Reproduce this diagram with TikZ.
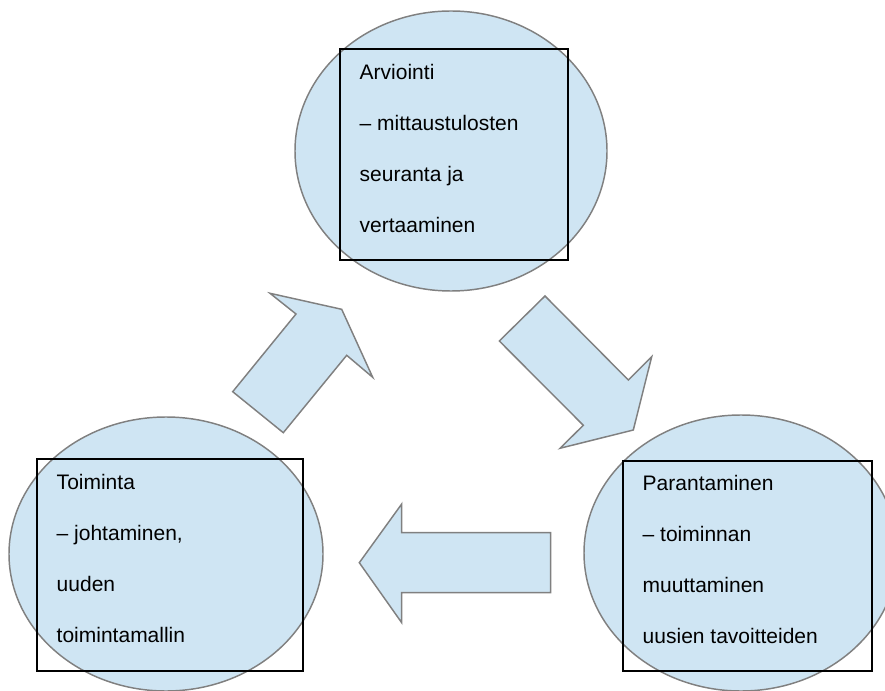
\documentclass[tikz,border=0pt]{standalone}
\usepackage{fontspec}
\setmainfont{Liberation Sans}
\usetikzlibrary{shapes.geometric, fit}

\definecolor{phasefill}{RGB}{207,229,243}
\definecolor{phaseline}{RGB}{128,128,128}

\begin{document}
\begin{tikzpicture}[x=0.75pt, y=-0.75pt, line join=miter]

% --- Global TikZ Styles ---
\tikzset{
    phase/.style={
        ellipse,
        draw=phaseline,
        fill=phasefill,
        line width=1.1pt,
        inner sep=0pt
    },
    textbox/.style={
        rectangle,
        draw=black,
        line width=0.8pt,
        inner sep=0pt
    },
    phasetext/.style={
        anchor=north west,
        inner sep=0pt,
        align=left,
        font=\fontsize{15.75}{38.25}\selectfont
    },
    cyclearrow/.style={
        draw=phaseline,
        fill=phasefill,
        line width=1.1pt
    }
}

% --- Page size ---
\useasboundingbox (0,0) rectangle (885,691);
\clip (0,0) rectangle (885,691);

% =========================================================================
% --- Three phases of the cycle ---
% =========================================================================

\node[phase, minimum width=234pt, minimum height=210pt] (evalphase) at (451,151) {};
\node[phase, minimum width=235.5pt, minimum height=205.5pt] (actphase) at (166,554) {};
\node[phase, minimum width=235.5pt, minimum height=207pt] (improvephase) at (741,553) {};

% --- Text boxes ---
\node[textbox, fit={(340,49) (568,260)}] (evalbox) {};
\node[textbox, fit={(37,459) (303,671)}] (actbox) {};
\node[textbox, fit={(623,461) (872,671)}] (improvebox) {};

% --- Texts ---
\node[phasetext] (evaltext) at ([shift={(20,16)}]evalbox.north west)
    {Arviointi\\– mittaustulosten\\seuranta ja\\vertaaminen};

\node[phasetext] (acttext) at ([shift={(20,16)}]actbox.north west)
    {Toiminta\\– johtaminen,\\uuden\\toimintamallin};

\node[phasetext] (improvetext) at ([shift={(20,15)}]improvebox.north west)
    {Parantaminen\\– toiminnan\\muuttaminen\\uusien tavoitteiden};

% =========================================================================
% --- Block arrows between the phases ---
% =========================================================================

% --- Toiminta -> Arviointi ---
\draw[cyclearrow]
    (232.7,391.7) -- (296,314) -- (270,293.3) -- (341.7,309.3)
    -- (372.7,377.3) -- (346.7,355.3) -- (283.3,432.7) -- cycle;

% --- Arviointi -> Parantaminen ---
\draw[cyclearrow]
    (545,296) -- (628.3,380) -- (651.7,356.7) -- (633.3,430)
    -- (560,448.3) -- (583.3,425.3) -- (499.3,341) -- cycle;

% --- Parantaminen -> Toiminta ---
\draw[cyclearrow]
    (359.3,562.7) -- (401.7,504) -- (401.7,532.7) -- (550.7,532.7)
    -- (550.7,592.7) -- (401.7,592.7) -- (401.7,622.7) -- cycle;

\end{tikzpicture}
\end{document}
